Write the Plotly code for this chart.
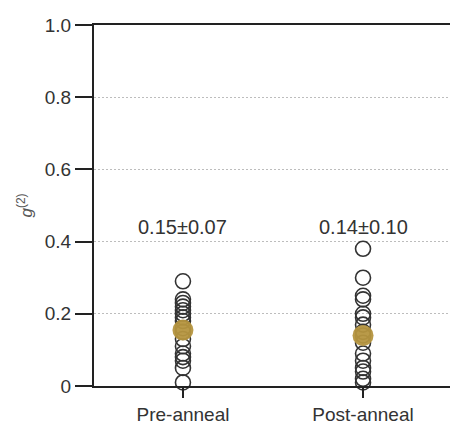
import plotly.graph_objects as go

categories = ["Pre-anneal", "Post-anneal"]
pre_values = [0.29, 0.24, 0.23, 0.22, 0.21, 0.20, 0.19, 0.18, 0.16, 0.15, 0.13, 0.11, 0.09, 0.08, 0.07, 0.05, 0.01]
post_values = [0.38, 0.30, 0.25, 0.24, 0.20, 0.19, 0.17, 0.15, 0.14, 0.12, 0.09, 0.07, 0.05, 0.04, 0.02, 0.01]
means = [0.155, 0.14]
labels = ["0.15±0.07", "0.14±0.10"]
label_y = 0.44
y_tickvals = [0, 0.2, 0.4, 0.6, 0.8, 1.0]
y_ticktext = ["0", "0.2", "0.4", "0.6", "0.8", "1.0"]

fig = go.Figure()
for i, vals in enumerate([pre_values, post_values]):
    fig.add_trace(go.Scatter(
        x=[i] * len(vals), y=vals, mode="markers",
        marker=dict(symbol="circle-open", size=15, color="#333333", line=dict(width=1.6)),
        cliponaxis=False, showlegend=False, hoverinfo="y"))

fig.add_trace(go.Scatter(
    x=[0, 1], y=means, mode="markers",
    marker=dict(symbol="circle", size=21, color="#B5953F", opacity=0.95),
    cliponaxis=False, showlegend=False))

for i, t in enumerate(labels):
    fig.add_annotation(x=i, y=label_y, text=t, showarrow=False,
                       font=dict(size=20, color="#333333", family="Liberation Sans, Arial"),
                       yanchor="middle")

fig.update_layout(
    width=450, height=428,
    margin=dict(l=94, r=0, t=25, b=42),
    plot_bgcolor="white", paper_bgcolor="white",
    font=dict(family="Liberation Sans, Arial", color="#333333"),
    xaxis=dict(
        range=[-0.494, 1.483], tickmode="array", tickvals=[0, 1], ticktext=categories,
        showline=True, linecolor="#222222", linewidth=2, mirror=True,
        ticks="outside", ticklen=10, tickwidth=2, tickcolor="#222222",
        showgrid=False, zeroline=False, tickfont=dict(size=19, color="#333333")),
    yaxis=dict(
        range=[0, 1], tickmode="array", tickvals=y_tickvals, ticktext=y_ticktext,
        showline=True, linecolor="#222222", linewidth=2,
        ticks="outside", ticklen=17, tickwidth=2, tickcolor="#222222",
        showgrid=True, gridcolor="#bdbdbd", griddash="2px,2px", gridwidth=1,
        zeroline=False, tickfont=dict(size=19, color="#333333"),
        title=dict(text="<i>g</i><sup>(2)</sup>", font=dict(size=17, color="#555555"), standoff=8)),
)

fig.write_html("out.html")
